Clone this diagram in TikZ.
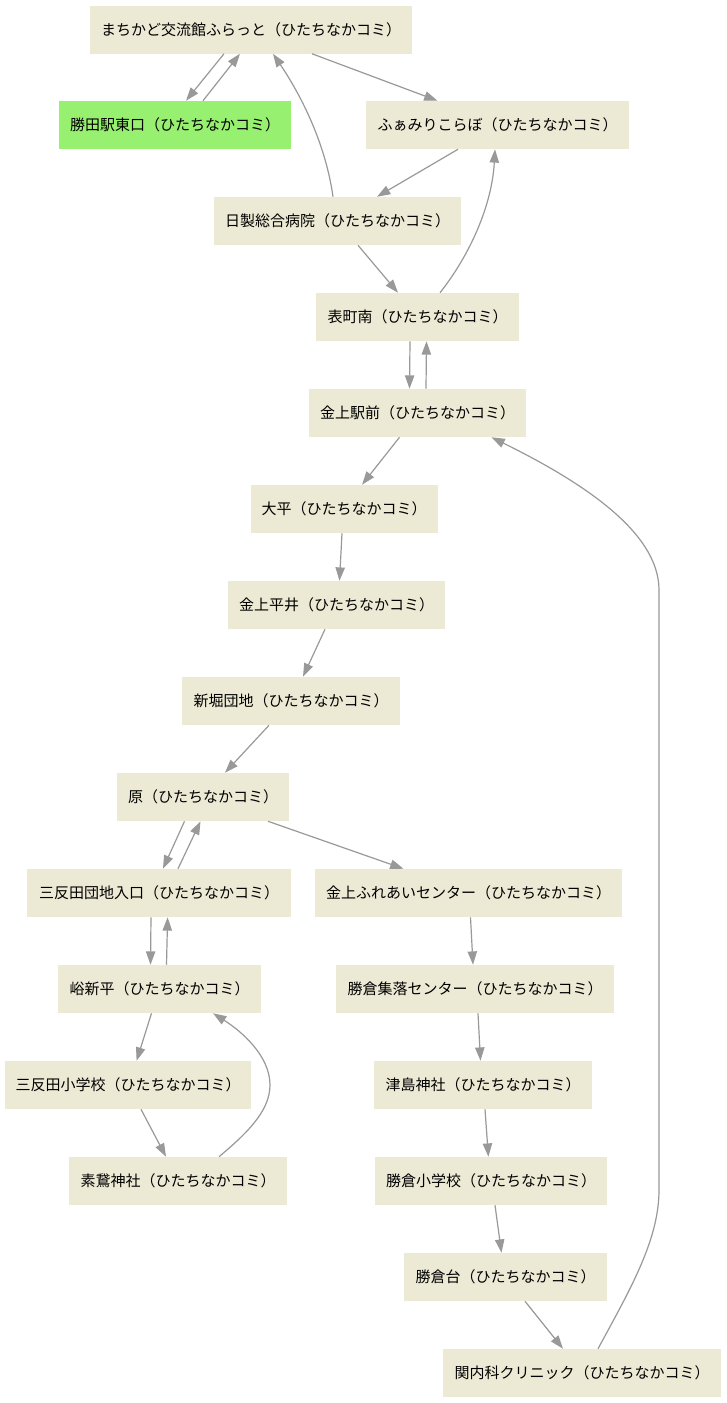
\documentclass[tikz,border=0pt]{standalone}
\usepackage{fontspec}
\setmainfont{Noto Sans CJK JP}
\usetikzlibrary{arrows.meta,calc}
\definecolor{boxbeige}{RGB}{236,233,212}
\definecolor{boxgreen}{RGB}{151,240,111}
\definecolor{edgegray}{RGB}{153,153,153}
\begin{document}
\begin{tikzpicture}[x=0.75pt,y=-0.75pt,
  stop/.style={fill=boxbeige, draw=none, inner sep=0pt, minimum height=36pt,
    minimum width=#1*0.75pt, font=\fontsize{11.25}{13}\selectfont, text=black},
  startstop/.style={stop=#1, fill=boxgreen},
  edge/.style={draw=edgegray, line width=0.9pt,
    -{Triangle[length=10pt,width=7pt]}, color=edgegray}]
\useasboundingbox[fill=white] (0,0) rectangle (726,1403);

\node[stop=322] (n1) at (251,29.5) {まちかど交流館ふらっと（ひたちなかコミ）};
\node[startstop=232] (n2) at (175,125) {勝田駅東口（ひたちなかコミ）};
\node[stop=263] (n3) at (497.5,125) {ふぁみりこらぼ（ひたちなかコミ）};
\node[stop=247] (n4) at (337.5,221) {日製総合病院（ひたちなかコミ）};
\node[stop=203] (n5) at (417.5,317) {表町南（ひたちなかコミ）};
\node[stop=217] (n6) at (417.5,413) {金上駅前（ひたちなかコミ）};
\node[stop=187] (n7) at (344,509) {大平（ひたちなかコミ）};
\node[stop=217] (n8) at (336.5,605) {金上平井（ひたちなかコミ）};
\node[stop=218] (n9) at (291,701) {新堀団地（ひたちなかコミ）};
\node[stop=172] (n10) at (203,797) {原（ひたちなかコミ）};
\node[stop=264] (n11) at (159,893) {三反田団地入口（ひたちなかコミ）};
\node[stop=307] (n12) at (468.5,893) {金上ふれあいセンター（ひたちなかコミ）};
\node[stop=203] (n13) at (159.5,989) {峪新平（ひたちなかコミ）};
\node[stop=278] (n14) at (475,989) {勝倉集落センター（ひたちなかコミ）};
\node[stop=246] (n15) at (128,1085) {三反田小学校（ひたちなかコミ）};
\node[stop=218] (n16) at (483,1085) {津島神社（ひたちなかコミ）};
\node[stop=218] (n17) at (178,1181) {素鵞神社（ひたちなかコミ）};
\node[stop=232] (n18) at (491,1181) {勝倉小学校（ひたちなかコミ）};
\node[stop=203] (n19) at (505.5,1277) {勝倉台（ひたちなかコミ）};
\node[stop=278] (n20) at (582,1373) {関内科クリニック（ひたちなかコミ）};

\coordinate (w1) at (270,1085);
\coordinate (r1) at (659,1190);
\coordinate (r2) at (659,590);

\draw[edge] ($(n1.south)+(-27,0)$) -- ($(n2.north)+(11,0)$);
\draw[edge] ($(n2.north)+(28,0)$) -- ($(n1.south)+(-11,0)$);
\draw[edge] ($(n1.south)+(61,0)$) -- ($(n3.north)+(-60,0)$);
\draw[edge] ($(n4.north)+(-4.5,0)$) .. controls +(-8,-57) and +(25,37) .. ($(n1.south)+(22,0)$);
\draw[edge] ($(n3.south)+(-39.5,0)$) -- ($(n4.north)+(39.5,0)$);
\draw[edge] ($(n4.south)+(20.5,0)$) -- ($(n5.north)+(-19.5,0)$);
\draw[edge] ($(n5.north)+(22.5,0)$) .. controls +(30,-38) and +(-3,56) .. ($(n3.south)+(-2.5,0)$);
\draw[edge] ($(n5.south)+(-7.5,0)$) -- ($(n6.north)+(-8,0)$);
\draw[edge] ($(n6.north)+(8.5,0)$) -- ($(n5.south)+(9,0)$);
\draw[edge] ($(n6.south)+(-18,0)$) -- ($(n7.north)+(18,0)$);
\draw[edge] ($(n7.south)+(-2,0)$) -- ($(n8.north)+(3,0)$);
\draw[edge] ($(n8.south)+(-11.5,0)$) -- ($(n9.north)+(12,0)$);
\draw[edge] ($(n9.south)+(-22,0)$) -- ($(n10.north)+(22,0)$);
\draw[edge] ($(n10.south)+(-18.5,0)$) -- ($(n11.north)+(4,0)$);
\draw[edge] ($(n11.north)+(19,0)$) -- ($(n10.south)+(-2.5,0)$);
\draw[edge] ($(n10.south)+(65,0)$) -- ($(n12.north)+(-65,0)$);
\draw[edge] ($(n11.south)+(-8,0)$) -- ($(n13.north)+(-9,0)$);
\draw[edge] ($(n13.north)+(7,0)$) -- ($(n11.south)+(8.6,0)$);
\draw[edge] ($(n13.south)+(-8,0)$) -- ($(n15.north)+(8.6,0)$);
\draw[edge] ($(n15.south)+(13,0)$) -- ($(n17.north)+(-12,0)$);
\draw[edge] ($(n17.north)+(41,0)$) .. controls +(26,-22) and +(0,27) .. (w1)
   .. controls +(0,-30) and +(27,17) .. ($(n13.south)+(53.5,0)$);
\draw[edge] ($(n12.south)+(2,0)$) -- ($(n14.north)+(-2,0)$);
\draw[edge] ($(n14.south)+(3,0)$) -- ($(n16.north)+(-2.5,0)$);
\draw[edge] ($(n16.south)+(2,0)$) -- ($(n18.north)+(-2.6,0)$);
\draw[edge] ($(n18.south)+(4,0)$) -- ($(n19.north)+(-4,0)$);
\draw[edge] ($(n19.south)+(19.5,0)$) -- ($(n20.north)+(-19,0)$);
\draw[edge] ($(n20.north)+(16,0)$) .. controls +(32,-59) and +(0,50) .. (r1)
   -- (r2) .. controls +(0,-60) and +(85,42) .. ($(n6.south)+(74,0)$);
\end{tikzpicture}
\end{document}
